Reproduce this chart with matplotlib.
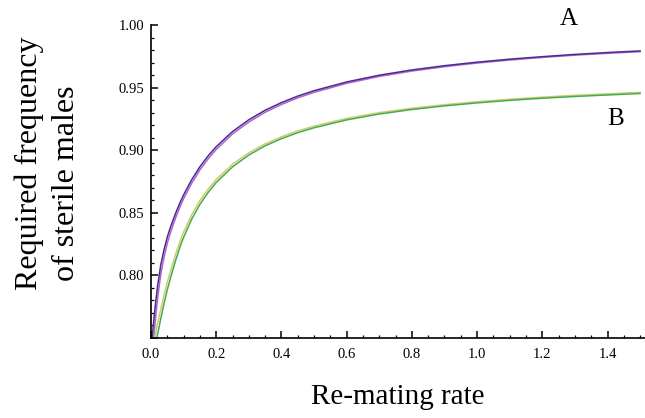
import matplotlib
matplotlib.use("Agg")
import matplotlib.pyplot as plt
from matplotlib.ticker import MultipleLocator

# re-mating rate
rate = [0.0, 0.005, 0.01, 0.015, 0.02, 0.03, 0.04, 0.05, 0.06, 0.075, 0.09, 0.1,
        0.125, 0.15, 0.175, 0.2, 0.25, 0.3, 0.35, 0.4, 0.45, 0.5,
        0.6, 0.7, 0.8, 0.9, 1.0, 1.1, 1.2, 1.3, 1.4, 1.5]

# curve pair A (upper)
a_dark = [0.738, 0.754, 0.768, 0.780, 0.791, 0.8085, 0.8205, 0.8307, 0.8387, 0.8493, 0.8587, 0.8643,
          0.8765, 0.8868, 0.8954, 0.9028, 0.9149, 0.9243, 0.9319, 0.9380, 0.9432, 0.9475,
          0.9545, 0.9599, 0.9641, 0.9675, 0.9703, 0.9727, 0.9747, 0.9765, 0.9780, 0.9793]
a_light = [0.722, 0.739, 0.755, 0.7685, 0.781, 0.801, 0.8145, 0.8257, 0.8344, 0.8456, 0.8554, 0.8612,
           0.8737, 0.8843, 0.8930, 0.9006, 0.9130, 0.9225, 0.9303, 0.9365, 0.9418, 0.9462,
           0.9534, 0.9589, 0.9632, 0.9667, 0.9696, 0.9720, 0.9741, 0.9759, 0.9774, 0.9787]

# curve pair B (lower)
b_yellow = [0.731, 0.740, 0.7475, 0.7545, 0.7615, 0.773, 0.7843, 0.7945, 0.8035, 0.8166, 0.8280, 0.8345,
            0.8485, 0.8597, 0.8689, 0.8766, 0.8888, 0.8979, 0.9051, 0.9107, 0.9154, 0.9192,
            0.9254, 0.9300, 0.9335, 0.9363, 0.9387, 0.9407, 0.9424, 0.9438, 0.9450, 0.9462]
b_green = [0.722, 0.731, 0.7385, 0.7455, 0.7525, 0.7655, 0.7775, 0.7885, 0.798, 0.8116, 0.8235, 0.8304,
           0.8450, 0.8567, 0.8662, 0.8742, 0.8867, 0.8961, 0.9035, 0.9092, 0.9140, 0.9179,
           0.9242, 0.9289, 0.9325, 0.9354, 0.9378, 0.9398, 0.9415, 0.9429, 0.9441, 0.9453]

SERIF = ["Liberation Serif", "DejaVu Serif"]

fig = plt.figure(figsize=(6.45, 4.18), dpi=100)
ax = fig.add_axes([151 / 645, 1 - 338 / 418, 494 / 645, 313 / 418])

ax.plot(rate, a_light, color="#b063cc", lw=1.1)
ax.plot(rate, a_dark, color="#4a2c8f", lw=1.1)
ax.plot(rate, b_yellow, color="#d2c86c", lw=1.1)
ax.plot(rate, b_green, color="#42ad50", lw=1.1)

ax.set_xlim(0, 1.515)
ax.set_ylim(0.75, 1.0)

for side in ["top", "right"]:
    ax.spines[side].set_visible(False)
for side in ["left", "bottom"]:
    ax.spines[side].set_linewidth(1.2)

ax.xaxis.set_major_locator(MultipleLocator(0.2))
ax.xaxis.set_minor_locator(MultipleLocator(0.05))
ax.yaxis.set_major_locator(MultipleLocator(0.05))
ax.yaxis.set_minor_locator(MultipleLocator(0.01))
ax.xaxis.set_major_formatter(plt.FuncFormatter(lambda v, p: f"{v:.1f}"))
ax.yaxis.set_major_formatter(plt.FuncFormatter(lambda v, p: "" if v < 0.76 else f"{v:.2f}"))

ax.tick_params(which="major", direction="in", length=5, width=1.1, labelsize=10.5)
ax.tick_params(axis="x", which="major", pad=7)
ax.tick_params(axis="y", which="major", pad=5)
ax.tick_params(which="minor", direction="in", length=2.5, width=0.9)
for lab in ax.get_xticklabels() + ax.get_yticklabels():
    lab.set_family(SERIF)

ax.text(1.282, 1.005, "A", fontsize=18, family=SERIF, ha="center", va="center", clip_on=False)
ax.text(1.425, 0.925, "B", fontsize=18, family=SERIF, ha="center", va="center")

fig.text(398 / 645, 1 - 397 / 418, "Re-mating rate", fontsize=21, family=SERIF,
         ha="center", va="center")
fig.text(29 / 645, 1 - 163 / 418, "Required frequency", fontsize=23, family=SERIF,
         rotation=90, ha="center", va="center")
fig.text(67 / 645, 1 - 183 / 418, "of sterile males", fontsize=23, family=SERIF,
         rotation=90, ha="center", va="center")

fig.savefig("out.png", dpi=100)
